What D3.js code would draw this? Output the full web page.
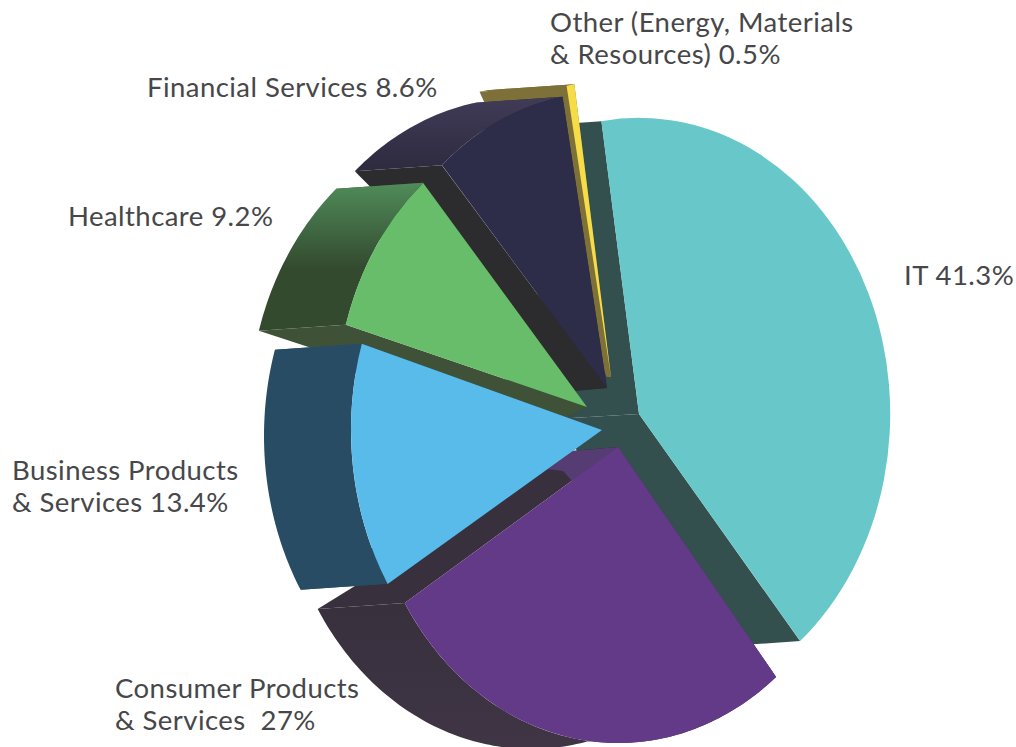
<!DOCTYPE html>
<html>
<head>
<meta charset="utf-8">
<script src="https://cdn.jsdelivr.net/npm/d3@7"></script>
<style>
html,body{margin:0;padding:0;background:#fff;overflow:hidden}
svg{display:block}
text{font-family:"Lato",sans-serif;font-size:27.5px;letter-spacing:0.45px;fill:#47474a;white-space:pre}
</style>
</head>
<body>
<script>
const categories = ["IT","Consumer Products & Services","Business Products & Services","Healthcare","Financial Services","Other (Energy, Materials & Resources)"];
const shares = [41.3,27,13.4,9.2,8.6,0.5];

// Label text
const labelLines = [
  ["IT 41.3%"],
  ["Consumer Products","& Services  27%"],
  ["Business Products","& Services 13.4%"],
  ["Healthcare 9.2%"],
  ["Financial Services 8.6%"],
  ["Other (Energy, Materials","& Resources) 0.5%"]
];
const labelAnchors = [[904,285],[115,698],[12,480],[68,226],[147,97],[550,32]];
const lineGap = 32;

// Styles
const topColors  = ["#68c8c9","#633a87","#58bbea","#68bd6b","#2e2d49","#f6dd47"];
const edgeColors = ["#33504f","#38303d","#274c64","#3f5238","#2c2c2e","#7d7038"];
const rimColors  = [null,["#38303d","#3f3545"],["#274c64","#274c64"],["#4f8a58","#334a2f"],["#403c58","#2f2b40"],["#7d7038","#7d7038"]];
const rimGradY   = [null,[600,745],[345,590],[185,268],[97,165],[85,100]];

// Layout: apex of each exploded slice, its small turn in degrees, and the extrusion vector at the apex
const apexes     = [[639,414],[618,447],[602,430],[587,407],[607,388],[611,377]];
const sliceTurn  = [-0.2,0.7,1.2,0.4,0,0];
const apexDepth  = [[-84,5],[-45,4],[-40,5],[-40,18],[-34,3],[-4,0]];
const rimDepth   = [-87,6];
const bandOffsets = [[-55,24],[-71,22]];
const radiusX = 251, radiusY = 296;
const firstAngle = -8.4 * Math.PI / 180;
const drawOrder = [0,5,4,3,1,2];

const svg = d3.select("body").append("svg").attr("width",1016).attr("height",747);
const defs = svg.append("defs");

const arcs = d3.pie().sort(null).value(d=>d)
  .startAngle(firstAngle).endAngle(firstAngle+2*Math.PI)(shares)
  .map((a,i)=>{
    const t = sliceTurn[i]*Math.PI/180;
    return {...a,startAngle:a.startAngle+t,endAngle:a.endAngle+t};
  });
const topArc = d3.arc().innerRadius(0).outerRadius(1);
const sx = d3.scaleLinear().domain([0,1]).range([0,radiusX]);
const sy = d3.scaleLinear().domain([0,1]).range([0,radiusY]);
const line = d3.line();

function rimPoints(i){
  const a = arcs[i], n = Math.max(4,Math.ceil((a.endAngle-a.startAngle)*60));
  return d3.range(n+1).map(k=>{
    const [x,y] = d3.pointRadial(a.startAngle+(a.endAngle-a.startAngle)*k/n,1);
    return [apexes[i][0]+sx(x),apexes[i][1]+sy(y)];
  });
}
const shift = (p,d,t=1)=>[p[0]+d[0]*t,p[1]+d[1]*t];

rimColors.forEach((c,i)=>{
  if(!c) return;
  const g = defs.append("linearGradient").attr("id","rim"+i)
    .attr("gradientUnits","userSpaceOnUse")
    .attr("x1",0).attr("x2",0).attr("y1",rimGradY[i][0]).attr("y2",rimGradY[i][1]);
  g.append("stop").attr("offset",0).attr("stop-color",c[0]);
  g.append("stop").attr("offset",1).attr("stop-color",c[1]);
});

drawOrder.forEach(i=>{
  const g = svg.append("g").attr("class","slice");
  const rim = rimPoints(i), apex = apexes[i], back = shift(apex,apexDepth[i]);
  const first = rim[0], last = rim[rim.length-1];
  // radial walls
  [first,last].forEach(p=>{
    g.append("path").attr("fill",edgeColors[i])
      .attr("d",line([apex,p,shift(p,rimDepth),back])+"Z");
  });
  // lighter band on the Consumer slice's upper wall
  if(i===1){
    g.append("path").attr("fill","#553c72")
      .attr("d",line([apex,first,shift(first,rimDepth,0.26),
        shift(apex,bandOffsets[0]),shift(apex,bandOffsets[1]),back])+"Z");
  }
  // outer wall
  if(rimColors[i]){
    g.append("path").attr("fill",`url(#rim${i})`)
      .attr("d",line(rim.concat(rim.map(p=>shift(p,rimDepth)).reverse()))+"Z");
  }
  // top face
  g.append("path")
    .attr("fill",topColors[i])
    .attr("transform",`translate(${apex[0]},${apex[1]}) scale(${radiusX},${radiusY})`)
    .attr("d",topArc(arcs[i]));
});

labelLines.forEach((lines,i)=>{
  const t = svg.append("text").attr("x",labelAnchors[i][0]).attr("y",labelAnchors[i][1]);
  lines.forEach((s,k)=>{
    t.append("tspan").attr("x",labelAnchors[i][0]).attr("dy",k?lineGap:0).text(s);
  });
});
</script>
</body>
</html>
